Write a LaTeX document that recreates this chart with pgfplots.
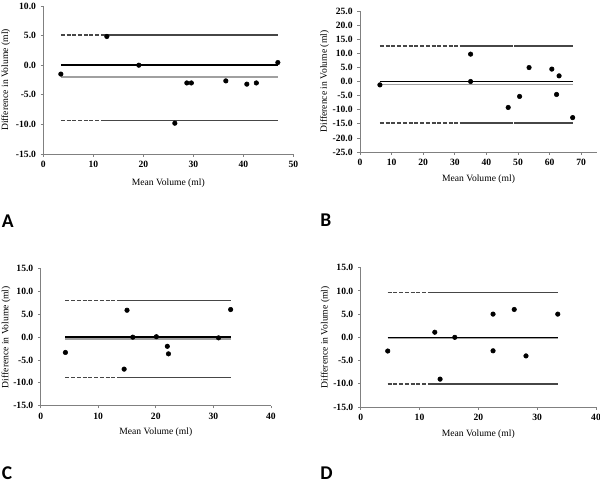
\documentclass[border=0pt]{standalone}
\usepackage{pgfplots}
\pgfplotsset{compat=1.18}
\usepackage{fontspec}
\setmainfont{Liberation Serif}
\newfontfamily\labfont{Carlito}
\definecolor{axgray}{RGB}{128,128,128}
\definecolor{loa}{RGB}{70,70,70}
\definecolor{bias}{RGB}{160,160,160}
\pgfplotsset{
 baplot/.style={
  scale only axis,
  anchor=south west,
  axis x line*=bottom, axis y line*=left,
  axis line style={axgray, line width=0.7pt},
  tick style={axgray, line width=0.6pt},
  tick align=outside, major tick length=2pt,
  font=\fontsize{7.2pt}{8.5pt}\selectfont,
  ticklabel style={font=\fontsize{7.2pt}{8.5pt}\selectfont\bfseries},
  /pgf/number format/assume math mode=true,
  yticklabel style={/pgf/number format/.cd, fixed, fixed zerofill, precision=1},
  xlabel={Mean Volume (ml)}, ylabel={Difference in Volume (ml)},
  xlabel style={at={(axis description cs:0.5,-0.194)}, anchor=center},
  ylabel style={at={(axis description cs:-0.15,0.5)}, anchor=center},
 },
 dsh/.style={draw=loa, line width=1.2pt, dash pattern=on 3pt off 1.3pt},
 sol/.style={draw=loa, line width=1.2pt},
 mn/.style={draw=black, line width=1.2pt},
 bs/.style={draw=bias, line width=1.2pt},
 pts/.style={only marks, mark=*, mark size=1.7pt, black},
}
\begin{document}
\begin{tikzpicture}
\path[use as bounding box] (0,0) rectangle (450pt,362.25pt);
% Panel A
\begin{axis}[baplot, at={(32.5pt,246.75pt)}, width=187.5pt, height=111pt,
  xmin=0, xmax=50, ymin=-15, ymax=10, xtick={0,10,...,50}, ytick={-15,-10,...,10}]
\addplot[bs] coordinates {(3.5,-2.0) (47,-2.0)};
\addplot[mn] coordinates {(3.5,0) (47,0)};
\addplot[dsh] coordinates {(3.5,5.1) (12.3,5.1)};
\addplot[sol] coordinates {(12.3,5.1) (47,5.1)};
\addplot[dsh] coordinates {(3.5,-9.35) (12.3,-9.35)};
\addplot[sol] coordinates {(12.3,-9.35) (47,-9.35)};
\addplot[pts] coordinates {(3.5,-1.5) (12.7,4.85) (19.1,0.0) (26.3,-9.8) (28.7,-3.0) (29.6,-3.0) (36.5,-2.65) (40.7,-3.2) (42.6,-3.0) (46.9,0.45)};
\end{axis}
% Panel B
\begin{axis}[baplot, at={(270pt,248.25pt)}, width=177.75pt, height=105.75pt,
  xmin=0, xmax=75, ymin=-25, ymax=25, xtick={0,10,...,70}, ytick={-25,-20,...,25}]
\addplot[bs] coordinates {(6.3,-1.1) (67.5,-1.1)};
\addplot[mn] coordinates {(6.3,0) (67.5,0)};
\addplot[dsh] coordinates {(6.3,12.6) (31.5,12.6)};
\addplot[sol] coordinates {(31.5,12.6) (48.3,12.6)};
\addplot[sol] coordinates {(48.8,12.6) (67.5,12.6)};
\addplot[dsh] coordinates {(6.3,-14.8) (31.5,-14.8)};
\addplot[sol] coordinates {(31.5,-14.8) (48.3,-14.8)};
\addplot[sol] coordinates {(48.8,-14.8) (67.5,-14.8)};
\addplot[pts] coordinates {(6.3,-1.2) (35.0,9.7) (35.0,0.0) (46.9,-9.2) (50.5,-5.3) (53.5,4.95) (60.7,4.4) (63.0,2.0) (62.2,-4.6) (67.3,-12.8)};
\end{axis}
% Panel C
\begin{axis}[baplot, at={(30.5pt,58pt)}, width=172.7pt, height=102.75pt,
  xmin=0, xmax=40, ymin=-15, ymax=15, xtick={0,10,...,40}, ytick={-15,-10,...,15}]
\addplot[bs] coordinates {(4.3,-0.45) (33.1,-0.45)};
\addplot[mn] coordinates {(4.3,0) (33.1,0)};
\addplot[dsh] coordinates {(4.3,8.0) (13.8,8.0)};
\addplot[sol] coordinates {(13.8,8.0) (33.1,8.0)};
\addplot[dsh] coordinates {(4.3,-8.83) (13.8,-8.83)};
\addplot[sol] coordinates {(13.8,-8.83) (33.1,-8.83)};
\addplot[pts] coordinates {(4.3,-3.35) (15.0,5.9) (14.5,-7.0) (16.0,0.0) (20.1,0.1) (22.0,-2.0) (22.2,-3.65) (30.9,-0.15) (33.0,6.05)};
\end{axis}
% Panel D
\begin{axis}[baplot, at={(270.5pt,57pt)}, width=176.5pt, height=104.5pt,
  xmin=0, xmax=40, ymin=-15, ymax=15, xtick={0,10,...,40}, ytick={-15,-10,...,15}]
\addplot[bs] coordinates {(4.6,-0.15) (33.6,-0.15)};
\addplot[mn] coordinates {(4.6,0) (33.6,0)};
\addplot[dsh] coordinates {(4.6,9.62) (11.8,9.62)};
\addplot[sol] coordinates {(11.8,9.62) (33.6,9.62)};
\addplot[dsh] coordinates {(4.6,-10.0) (11.8,-10.0)};
\addplot[sol] coordinates {(11.8,-10.0) (33.6,-10.0)};
\addplot[pts] coordinates {(4.6,-2.95) (12.6,1.1) (13.5,-9.0) (16.0,0.0) (22.5,5.0) (22.5,-2.9) (26.1,6.0) (28.1,-4.0) (33.5,5.0)};
\end{axis}
\node[anchor=base west, inner sep=0pt] at (1.3pt,191.8pt) {\labfont\bfseries\fontsize{14.6pt}{16pt}\selectfont A};
\node[anchor=base west, inner sep=0pt] at (240pt,192.2pt) {\labfont\bfseries\fontsize{14.6pt}{16pt}\selectfont B};
\node[anchor=base west, inner sep=0pt] at (1.3pt,2.5pt) {\labfont\bfseries\fontsize{14.6pt}{16pt}\selectfont C};
\node[anchor=base west, inner sep=0pt] at (240pt,2.5pt) {\labfont\bfseries\fontsize{14.6pt}{16pt}\selectfont D};
\end{tikzpicture}
\end{document}
